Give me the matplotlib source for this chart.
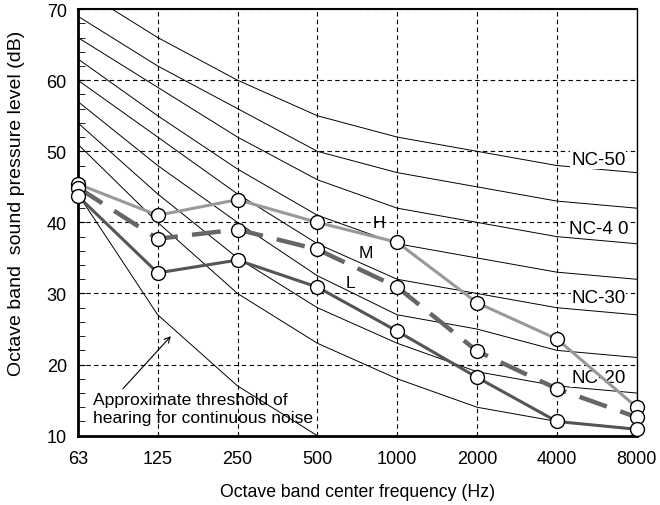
import numpy as np
import matplotlib
matplotlib.use('Agg')
import matplotlib.pyplot as plt

plt.rcParams['font.family'] = ['Liberation Sans', 'DejaVu Sans']

# octave band centers (Hz)
freqs = ['63', '125', '250', '500', '1000', '2000', '4000', '8000']

# NC curves (dB)
nc_curves = {
    'NC-50': [73, 66, 60, 55, 52, 50, 48, 47],
    'NC-45': [69, 62, 56, 50, 47, 45, 43, 42],
    'NC-40': [66, 59, 52, 46, 42, 40, 38, 37],
    'NC-35': [63, 55, 47.5, 41, 37, 35, 33, 32],
    'NC-30': [60, 52, 44, 37, 32, 30, 28, 27],
    'NC-25': [57, 48, 40, 32.5, 27, 25, 22, 21],
    'NC-20': [54, 44, 35, 28, 23, 19, 17, 16],
    'NC-15': [51, 40, 30, 23, 18, 14, 12, 11],
}

# approximate threshold of hearing (63..500 Hz)
threshold = [44, 27, 17, 10]

# measured spectra
level_H = [45.4, 41.0, 43.2, 40.0, 37.2, 28.7, 23.6, 14.0]
level_M = [44.9, 37.7, 39.0, 36.2, 30.9, 21.9, 16.6, 12.6]
level_L = [43.7, 32.9, 34.7, 30.9, 24.7, 18.2, 12.0, 10.9]

nc_labels = ['NC-50', 'NC-4 0', 'NC-30', 'NC-20']
nc_label_y = [48.8, 39.2, 29.5, 18.2]

x = np.arange(len(freqs))

fig = plt.figure(figsize=(6.6, 5.06), dpi=100)
ax = fig.add_axes([0.118, 0.137, 0.8467, 0.843])

# NC curves
for name, vals in nc_curves.items():
    ax.plot(x, vals, color='black', lw=0.7, zorder=2)
ax.plot(x[:len(threshold)], threshold, color='black', lw=0.7, zorder=2)

# measured spectra
mk = dict(marker='o', markersize=10, markerfacecolor='white',
          markeredgecolor='black', markeredgewidth=1.0, clip_on=False)
ax.plot(x, level_H, color='#999999', lw=2.2, zorder=4, **mk)
ax.plot(x, level_M, color='#666666', lw=3.2, dashes=(6.5, 3.2), zorder=4, **mk)
ax.plot(x, level_L, color='#555555', lw=2.2, zorder=4, **mk)

ax.text(3.77, 40.0, 'H', fontsize=12.5, ha='center', va='center', zorder=5)
ax.text(3.61, 35.7, 'M', fontsize=12.5, ha='center', va='center', zorder=5)
ax.text(3.41, 31.6, 'L', fontsize=12.5, ha='center', va='center', zorder=5)

for lab, yy in zip(nc_labels, nc_label_y):
    ax.text(6.52, yy, lab, fontsize=13.5, ha='center', va='center', zorder=3,
            bbox=dict(facecolor='white', edgecolor='none', pad=0.5))

ax.annotate('', xy=(1.165, 24.0), xytext=(0.564, 16.6),
            arrowprops=dict(arrowstyle='->', color='black', lw=0.8,
                            shrinkA=0, shrinkB=0), zorder=5)
ax.text(0.19, 13.8, 'Approximate threshold of\nhearing for continuous noise',
        fontsize=12.6, ha='left', va='center', linespacing=1.2, zorder=5)

ax.set_xlim(0, 7)
ax.set_ylim(10, 70)
ax.set_xticks(x)
ax.set_xticklabels(freqs)
ax.set_yticks(np.arange(10, 71, 10))
ax.set_yticks(np.arange(10, 71, 2), minor=True)
ax.tick_params(axis='x', length=0, labelsize=13, pad=10)
ax.tick_params(axis='y', which='both', direction='in', length=5,
               labelsize=13, pad=8)

ax.grid(True, which='major', color='black', lw=0.8, ls=(0, (4, 3)))
ax.set_axisbelow(True)

for side, w in [('left', 2.0), ('bottom', 2.0), ('top', 1.5), ('right', 1.0)]:
    ax.spines[side].set_linewidth(w)

ax.set_xlabel('Octave band center frequency (Hz)', fontsize=12.7, labelpad=12)
ax.set_ylabel('Octave band  sound pressure level (dB)', fontsize=14)
ax.yaxis.set_label_coords(-0.095, 0.546)

plt.savefig('out.png', dpi=100)
